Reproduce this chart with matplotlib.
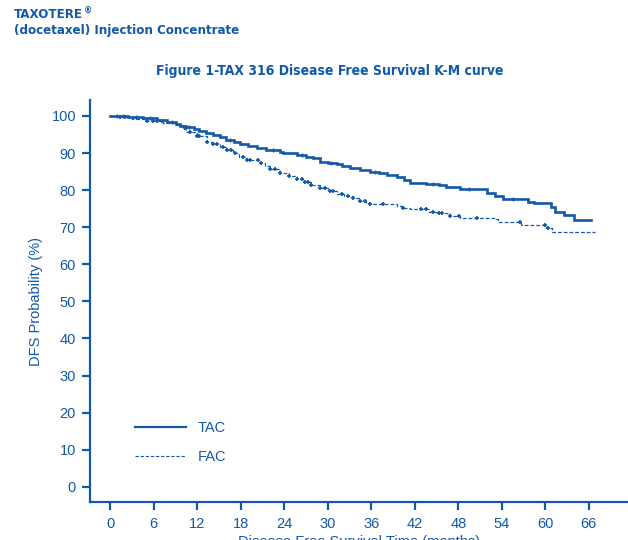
import numpy as np
import matplotlib
matplotlib.use("Agg")
import matplotlib.pyplot as plt
from matplotlib.lines import Line2D

# ---------------- data ----------------
tac_time = [0, 2.5, 4.5, 6.5, 7.8, 9.0, 9.6, 10.5, 11.5, 12.3, 13.2, 14.2, 15.1, 16.0, 17.0,
            17.9, 19.0, 20.2, 21.5, 23.4, 23.8, 25.7, 27.0, 28.0, 28.9, 30.0, 31.2, 32.0,
            33.0, 34.5, 35.8, 37.0, 38.1, 39.5, 40.5, 41.3, 43.6, 45.4, 46.3, 48.2, 51.9,
            53.0, 54.1, 57.6, 58.5, 60.8, 61.3, 62.6, 64.0, 66.3]
tac_surv = [100, 99.7, 99.4, 99.0, 98.5, 97.8, 97.3, 97.0, 96.5, 96.0, 95.5, 94.9, 94.2, 93.5, 92.9,
            92.4, 91.8, 91.3, 90.8, 90.4, 89.9, 89.5, 89.0, 88.6, 87.7, 87.4, 87.1, 86.5,
            85.9, 85.4, 85.0, 84.6, 84.1, 83.5, 82.8, 82.0, 81.7, 81.4, 80.8, 80.2, 79.3,
            78.4, 77.6, 76.9, 76.4, 75.4, 74.2, 73.3, 71.9, 71.9]

fac_time = [0, 1.3, 3.0, 5.0, 7.3, 9.1, 10.0, 10.5, 11.9, 13.3, 14.2, 15.1, 16.0, 16.9, 17.8,
            18.8, 20.6, 21.3, 22.0, 23.4, 24.7, 25.7, 26.6, 27.7, 28.9, 30.0, 31.2, 32.3,
            33.5, 34.4, 35.3, 35.8, 39.5, 40.4, 41.3, 44.0, 45.4, 46.8, 48.2, 50.7, 53.0,
            53.5, 56.6, 60.1, 60.9, 66.8]
fac_surv = [100, 99.6, 99.2, 98.7, 98.0, 97.6, 96.8, 95.8, 94.6, 93.1, 92.4, 91.6, 90.8, 89.9, 89.0,
            88.1, 87.2, 86.4, 85.6, 84.5, 83.8, 83.0, 82.3, 81.4, 80.5, 79.8, 79.0, 78.4,
            77.8, 77.1, 76.4, 76.2, 75.8, 75.3, 74.8, 74.2, 73.9, 73.0, 72.6, 72.4, 72.1,
            71.5, 70.6, 69.7, 68.8, 68.8]

tac_censor = [0.9, 1.8, 3.5, 5.5, 8.5, 10.8, 16.5, 22.5, 26.5, 30.5, 36.5, 44.5, 49.5, 55.5]
fac_censor = [1.3, 2.0, 5.0, 5.9, 6.4, 7.1, 10.3, 11.0, 11.9, 12.3, 13.3, 14.2, 14.7, 15.6,
              16.1, 16.7, 17.2, 18.3, 18.8, 19.2, 20.4, 20.8, 22.0, 22.7, 23.4, 24.7, 25.7,
              26.4, 26.8, 27.3, 27.7, 28.9, 29.6, 30.3, 30.7, 31.9, 32.8, 33.5, 34.4, 35.1,
              35.8, 37.6, 40.4, 42.9, 43.6, 44.5, 45.4, 45.8, 46.8, 48.1, 50.6, 56.5, 60.0, 60.4]

x_ticks = [0, 6, 12, 18, 24, 30, 36, 42, 48, 54, 60, 66]
y_ticks = [0, 10, 20, 30, 40, 50, 60, 70, 80, 90, 100]
series_labels = ["TAC", "FAC"]

header1 = "TAXOTERE"
header2 = "(docetaxel) Injection Concentrate"
title = "Figure 1-TAX 316 Disease Free Survival K-M curve"
xlabel = "Disease Free Survival Time (months)"
ylabel = "DFS Probability (%)"

# ---------------- style ----------------
BLUE = "#1259a8"
NARROW = ["Liberation Sans Narrow", "DejaVu Sans"]
plt.rcParams["font.family"] = ["Liberation Sans", "DejaVu Sans"]


def step_value(t, times, surv):
    idx = np.searchsorted(np.asarray(times), t, side="right") - 1
    return np.asarray(surv)[np.clip(idx, 0, len(surv) - 1)]


fig = plt.figure(figsize=(6.28, 5.40), dpi=100)
ax = fig.add_axes([90 / 628, (540 - 502) / 540, 538 / 628, 402 / 540])

ax.plot(tac_time, tac_surv, drawstyle="steps-post", color=BLUE, lw=1.9, solid_joinstyle="miter")
ax.plot(fac_time, fac_surv, drawstyle="steps-post", color=BLUE, lw=0.9, dashes=(3, 1.6))

ax.plot(tac_censor, step_value(tac_censor, tac_time, tac_surv), ls="none", marker="+",
        ms=3.5, mew=1.0, color=BLUE)
ax.plot(fac_censor, step_value(fac_censor, fac_time, fac_surv), ls="none", marker="+",
        ms=3.5, mew=1.2, color=BLUE)

ax.set_xlim(-2.8, 71.4)
ax.set_ylim(-4.1, 104.3)
ax.set_xticks(x_ticks)
ax.set_yticks(y_ticks)

for s in ["top", "right"]:
    ax.spines[s].set_visible(False)
for s in ["left", "bottom"]:
    ax.spines[s].set_color(BLUE)
    ax.spines[s].set_linewidth(1.6)

ax.tick_params(axis="both", colors=BLUE, labelcolor=BLUE, length=6, width=1.6,
               labelsize=10.5, direction="out")
ax.tick_params(axis="y", pad=4)
ax.tick_params(axis="x", pad=5)

ax.set_xlabel(xlabel, color=BLUE, fontsize=10.5, labelpad=3)
ax.set_ylabel(ylabel, color=BLUE, fontsize=10.5, labelpad=6)

handles = [Line2D([], [], color=BLUE, lw=1.6),
           Line2D([], [], color=BLUE, lw=0.8, dashes=(3, 1.6))]
leg = ax.legend(handles, series_labels, frameon=False, loc="upper left",
                bbox_to_anchor=((135 - 90) / 538, (502 - 421) / 402),
                borderpad=0, borderaxespad=0, handlelength=3.5, handletextpad=0.8,
                labelspacing=1.05, fontsize=10.5)
for t in leg.get_texts():
    t.set_color(BLUE)

# header texts (condensed bold; kept close to the reference's text widths)
fig.canvas.draw()
renderer = fig.canvas.get_renderer()


def fitted_text(x, y, s, size, target_w, **kw):
    t = fig.text(x, y, s, color=BLUE, fontsize=size, fontweight="bold", family=NARROW,
                 fontstretch="condensed", **kw)
    w = t.get_window_extent(renderer).width
    if w > target_w * 1.1:
        t.set_fontsize(size * target_w * 1.1 / w)
    return t


h1 = fitted_text(14 / 628, 1 - 14 / 540, header1, 9.5, 66, va="center", ha="left")
fitted_text(14 / 628, 1 - 31 / 540, header2, 9.5, 206, va="center", ha="left")
fitted_text(330 / 628, 1 - 71 / 540, title, 10, 335, va="center", ha="center")

fig.canvas.draw()
bb = h1.get_window_extent(renderer)
fig.text((bb.x1 + 1) / 628, (bb.y1 + 1) / 540, "®", color=BLUE, fontsize=6, fontweight="bold",
         family=NARROW, va="top", ha="left")

fig.savefig("out.png", dpi=100)
